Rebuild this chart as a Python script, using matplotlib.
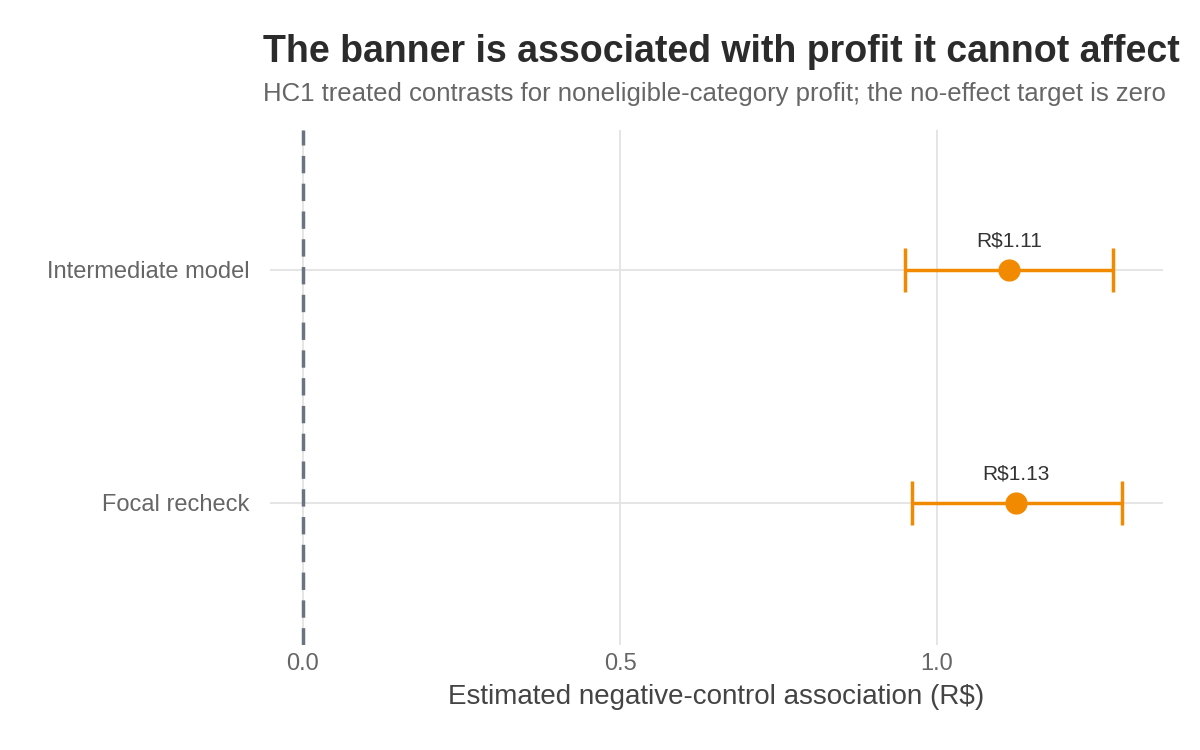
import matplotlib.pyplot as plt

plt.rcParams["font.family"] = ["Liberation Sans", "DejaVu Sans"]

models = ["Focal recheck", "Intermediate model"]
estimates = [1.125, 1.114]
ci_low = [0.96, 0.95]
ci_high = [1.292, 1.278]
labels = ["R$1.13", "R$1.11"]
x_ticks = [0.0, 0.5, 1.0]

ORANGE = "#f28a00"

fig = plt.figure(figsize=(12, 7.5), dpi=100)
ax = fig.add_axes([0.225, 0.14, 0.744, 0.687])

ypos = list(range(len(models)))
for y, est, lo, hi, lab in zip(ypos, estimates, ci_low, ci_high, labels):
    ax.errorbar(est, y, xerr=[[est - lo], [hi - est]], fmt="o", color=ORANGE,
                ecolor=ORANGE, elinewidth=2.5, capsize=16, capthick=2.5,
                markersize=15, zorder=3)
    ax.annotate(lab, (est, y), xytext=(0, 14), textcoords="offset points",
                ha="center", va="bottom", fontsize=15, color="#333333")

ax.axvline(0, color="#6b7280", linestyle=(0, (5, 3)), linewidth=2.5, zorder=2)

ax.set_xlim(-0.052, 1.356)
ax.set_ylim(-0.61, 1.6)
ax.set_xticks(x_ticks)
ax.set_xticklabels([f"{v:.1f}" for v in x_ticks])
ax.set_yticks(ypos)
ax.set_yticklabels(models)
ax.tick_params(length=0, labelsize=17, colors="#666666")
ax.tick_params(axis="y", pad=15)
ax.tick_params(axis="x", pad=6)
ax.grid(True, color="#e3e3e3", linewidth=1.3)
ax.set_axisbelow(True)
for s in ax.spines.values():
    s.set_visible(False)
ax.set_xlabel("Estimated negative-control association (R$)", fontsize=20,
              color="#444444", labelpad=6)

fig.text(0.219, 0.917, "The banner is associated with profit it cannot affect",
         fontsize=27, fontweight="bold", color="#2b2b2b", va="baseline")
fig.text(0.219, 0.866, "HC1 treated contrasts for noneligible-category profit; the no-effect target is zero",
         fontsize=18.5, color="#666666", va="baseline")

fig.savefig("out.png")
